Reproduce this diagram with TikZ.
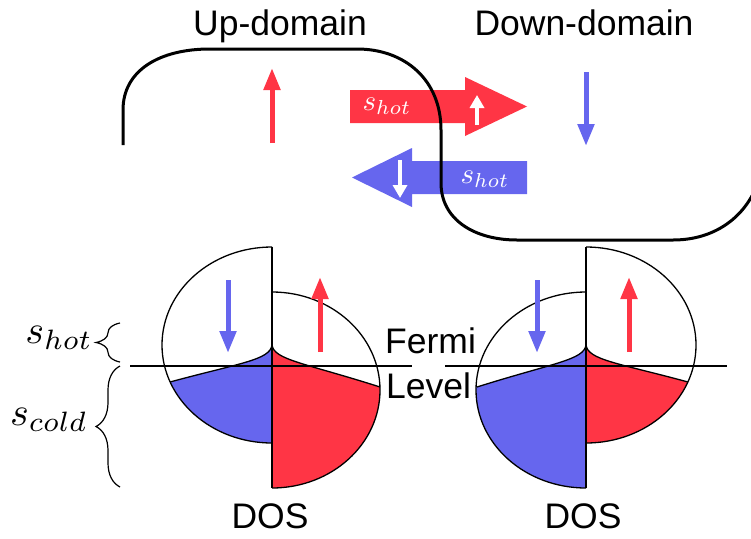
\documentclass[tikz,border=0pt]{standalone}
\usepackage{graphicx}
\usepackage{fontspec}
\setmainfont{Liberation Sans}
\usetikzlibrary{arrows.meta,decorations.pathreplacing}
\definecolor{myred}{RGB}{255,53,69}
\definecolor{myblue}{RGB}{102,102,238}
\begin{document}
\begin{tikzpicture}[x=1pt,y=-1pt,
  lbl/.style={font=\fontsize{35.5}{40}\selectfont, inner sep=0pt},
  hotlbl/.style={font=\normalsize, inner sep=0pt, text=white},
  sidelbl/.style={font=\normalsize, inner sep=0pt},
  spinup/.style={myred, line width=5pt, -{Triangle[width=16pt,length=22pt]}},
  spindown/.style={myblue, line width=5pt, -{Triangle[width=16pt,length=22pt]}},
  whitearrow/.style={white, line width=4.5pt, -{Triangle[width=14pt,length=13pt]}},
  outline/.style={black, line width=1.3pt},
  domainline/.style={black, line width=3pt, line join=round},
  mybrace/.style={decorate, decoration={brace, amplitude=24pt}, line width=1.2pt}
]
\useasboundingbox (0,0) rectangle (751,538);

% ---- titles
\node[lbl, anchor=base] (updom) at (280,35) {Up-domain};
\node[lbl, anchor=base] (downdom) at (584,35) {Down-domain};

% ---- big transfer arrows
\fill[myred] (350,90) -- (465,90) -- (465,77) -- (527,106.5) -- (465,136) -- (465,123) -- (350,123) -- cycle;
\fill[myblue] (527,161) -- (412,161) -- (412,148) -- (352,177.5) -- (412,207) -- (412,194) -- (527,194) -- cycle;
\node[hotlbl, anchor=base] (shotred) at (387,110) {\scalebox{2.9}{$s_{hot}$}};
\node[hotlbl, anchor=base] (shotblue) at (485,183) {\scalebox{2.9}{$s_{hot}$}};
\draw[whitearrow] (477,125) -- (477,95);
\draw[whitearrow] (400,160) -- (400,198);

% ---- domain magnetisation arrows
\draw[spinup] (272,143) -- (272,68);
\draw[spindown] (586,72) -- (586,146);

% ---- domain boundary
\draw[domainline] (123,145) -- (123,110) .. controls (123,70) and (160,49) .. (210,49) -- (357,49)
  .. controls (405,49) and (441,80) .. (441,130) -- (441,183)
  .. controls (441,220) and (475,240) .. (517,240) -- (673,240)
  .. controls (710,240) and (740,222) .. (755,190);

% ---- left DOS
\begin{scope}
  \clip (150,240) rectangle (272,500);
  \clip (272,345) ellipse [x radius=110, y radius=98];
  \fill[myblue] (272,345) .. controls (270,360) and (240,363) .. (170,382) -- (140,390) -- (140,500) -- (272,500) -- cycle;
\end{scope}
\begin{scope}
  \clip (272,240) rectangle (400,500);
  \clip (272,390) ellipse [x radius=108, y radius=98];
  \fill[myred] (272,345) .. controls (274,360) and (305,363) .. (380,387) -- (400,393) -- (400,500) -- (272,500) -- cycle;
\end{scope}
\begin{scope}
  \clip (150,240) rectangle (272,500);
  \draw[outline] (272,345) ellipse [x radius=110, y radius=98];
\end{scope}
\begin{scope}
  \clip (272,240) rectangle (400,500);
  \draw[outline] (272,390) ellipse [x radius=108, y radius=98];
\end{scope}
\draw[outline] (272,345) .. controls (270,360) and (240,363) .. (170,382);
\draw[outline] (272,345) .. controls (274,360) and (305,363) .. (380,387);
\draw[outline] (272,247) -- (272,488);

% ---- right DOS
\begin{scope}
  \clip (460,240) rectangle (586,500);
  \clip (586,390) ellipse [x radius=110, y radius=98];
  \fill[myblue] (586,345) .. controls (584,360) and (553,363) .. (477,387) -- (460,393) -- (460,500) -- (586,500) -- cycle;
\end{scope}
\begin{scope}
  \clip (586,240) rectangle (710,500);
  \clip (586,345) ellipse [x radius=110, y radius=98];
  \fill[myred] (586,345) .. controls (588,360) and (618,363) .. (688,382) -- (710,388) -- (710,500) -- (586,500) -- cycle;
\end{scope}
\begin{scope}
  \clip (460,240) rectangle (586,500);
  \draw[outline] (586,390) ellipse [x radius=110, y radius=98];
\end{scope}
\begin{scope}
  \clip (586,240) rectangle (710,500);
  \draw[outline] (586,345) ellipse [x radius=110, y radius=98];
\end{scope}
\draw[outline] (586,345) .. controls (584,360) and (553,363) .. (477,387);
\draw[outline] (586,345) .. controls (588,360) and (618,363) .. (688,382);
\draw[outline] (586,247) -- (586,488);

% ---- Fermi level
\draw[outline] (130,366) -- (412,366);
\draw[outline] (445,366) -- (727,366);
\node[lbl, anchor=base west] (fermi) at (385,353) {Fermi};
\node[lbl, anchor=base west] (level) at (386,398) {Level};

% ---- DOS arrows
\draw[spindown] (228,280) -- (228,353);
\draw[spinup] (320,352) -- (320,277);
\draw[spindown] (537,280) -- (537,353);
\draw[spinup] (629,352) -- (629,277);

% ---- DOS labels
\node[lbl, anchor=base] (dosl) at (270,528) {DOS};
\node[lbl, anchor=base] (dosr) at (583,528) {DOS};

% ---- braces and side labels
\draw[mybrace] (120,362) -- (120,323);
\draw[mybrace] (120,487) -- (120,366);
\node[sidelbl, anchor=base east] (shotside) at (93,343) {\scalebox{4.0}{$s_{hot}$}};
\node[sidelbl, anchor=base east] (scold) at (88,425) {\scalebox{4.0}{$s_{cold}$}};
\end{tikzpicture}
\end{document}
